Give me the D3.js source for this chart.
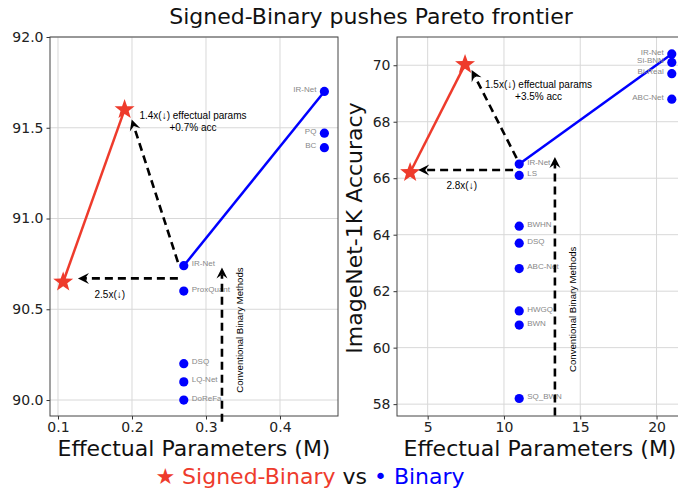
<!DOCTYPE html>
<html><head><meta charset="utf-8">
<script src="https://cdn.jsdelivr.net/npm/d3@7/dist/d3.min.js"></script>
<style>
body{margin:0;background:#fff;}
svg{display:block;}
</style></head>
<body><svg id="c" width="678" height="488"></svg>
<script>
// ---- data ----
const leftSBx = [0.107, 0.19];
const leftSBy = [90.65, 91.6];
const leftBinNames = ["IR-Net","PQ","BC","IR-Net","ProxQuant","DSQ","LQ-Net","DoReFa"];
const leftBinX = [0.46,0.46,0.46,0.27,0.27,0.27,0.27,0.27];
const leftBinY = [91.7,91.47,91.39,90.74,90.6,90.2,90.1,90.0];
const leftBinFront = [3,0];
const leftXTicks = [0.1,0.2,0.3,0.4];
const leftYTicks = [90.0,90.5,91.0,91.5,92.0];

const rightSBx = [3.85, 7.45];
const rightSBy = [66.2, 70.03];
const rightBinNames = ["IR-Net","Si-BNN","Bi-Real","ABC-Net","IR-Net","LS","BWHN","DSQ","ABC-Net","HWGQ","BWN","SQ_BWN"];
const rightBinX = [21,21,21,21,11,11,11,11,11,11,11,11];
const rightBinY = [70.4,70.1,69.7,68.8,66.5,66.1,64.3,63.7,62.8,61.3,60.8,58.2];
const rightBinFront = [4,0];
const rightXTicks = [5,10,15,20];
const rightYTicks = [58,60,62,64,66,68,70];

const leftArrows = [
  {x1:0.262,y1:90.76,x2:0.1996,y2:91.546},
  {x1:0.262,y1:90.67,x2:0.127,y2:90.67},
  {x1:0.3216,y1:89.88,x2:0.3216,y2:90.73}
];
const rightArrows = [
  {x1:10.83,y1:66.71,x2:7.88,y2:69.83},
  {x1:10.6,y1:66.29,x2:4.38,y2:66.29},
  {x1:13.34,y1:57.6,x2:13.34,y2:66.75}
];
const leftNotes = [
  {t:"1.4x(\u2193) effectual params",x:0.2824,y:91.565,rot:false},
  {t:"+0.7% acc",x:0.2824,y:91.498,rot:false},
  {t:"2.5x(\u2193)",x:0.170,y:90.578,rot:false},
  {t:"Conventional Binary Methods",x:0.347,y:90.385,rot:true}
];
const rightNotes = [
  {t:"1.5x(\u2193) effectual params",x:12.27,y:69.29,rot:false},
  {t:"+3.5% acc",x:12.27,y:68.88,rot:false},
  {t:"2.8x(\u2193)",x:7.23,y:65.70,rot:false},
  {t:"Conventional Binary Methods",x:14.58,y:61.36,rot:true}
];

const RED = "#ee3b2c", BLUE = "#0000ff";
const svg = d3.select("#c");
const FONT = "'DejaVu Sans', sans-serif";
const AFONT = "'Liberation Sans', Arial, sans-serif";

function starPath(R, r){
  const pts=[];
  for(let i=0;i<10;i++){
    const a = -Math.PI/2 + i*Math.PI/5;
    const rr = i%2===0?R:r;
    pts.push([rr*Math.cos(a), rr*Math.sin(a)]);
  }
  return "M"+pts.map(p=>p.join(",")).join("L")+"Z";
}

function panel(cfg){
  const x = d3.scaleLinear().domain(cfg.xd).range([cfg.x0,cfg.x1]);
  const y = d3.scaleLinear().domain(cfg.yd).range([cfg.y1,cfg.y0]);
  const g = svg.append("g");
  const clipId = "clip"+cfg.id;
  svg.append("clipPath").attr("id",clipId).append("rect")
    .attr("x",cfg.x0).attr("y",cfg.y0).attr("width",cfg.x1-cfg.x0).attr("height",cfg.y1-cfg.y0);
  // grid
  g.append("g").selectAll("line").data(cfg.xt).join("line")
    .attr("x1",d=>x(d)).attr("x2",d=>x(d)).attr("y1",cfg.y0).attr("y2",cfg.y1)
    .attr("stroke","#d8d8d8").attr("stroke-width",1);
  g.append("g").selectAll("line").data(cfg.yt).join("line")
    .attr("y1",d=>y(d)).attr("y2",d=>y(d)).attr("x1",cfg.x0).attr("x2",cfg.x1)
    .attr("stroke","#d8d8d8").attr("stroke-width",1);
  // axes
  const xa = d3.axisBottom(x).tickValues(cfg.xt).tickFormat(cfg.xf).tickSize(3.5).tickPadding(3);
  const ya = d3.axisLeft(y).tickValues(cfg.yt).tickFormat(cfg.yf).tickSize(3.5).tickPadding(3);
  const gx = g.append("g").attr("transform",`translate(0,${cfg.y1})`).call(xa);
  const gy = g.append("g").attr("transform",`translate(${cfg.x0},0)`).call(ya);
  [gx,gy].forEach(a=>{
    a.select(".domain").remove();
    a.selectAll("line").attr("stroke","#333");
    a.selectAll("text").attr("font-family",FONT).attr("font-size",14).attr("fill","#222");
  });
  // frame
  g.append("rect").attr("x",cfg.x0).attr("y",cfg.y0).attr("width",cfg.x1-cfg.x0).attr("height",cfg.y1-cfg.y0)
    .attr("fill","none").attr("stroke","#444").attr("stroke-width",1);
  const p = g.append("g").attr("clip-path",`url(#${clipId})`);
  // lines
  const line = d3.line().x(d=>x(d[0])).y(d=>y(d[1]));
  p.append("path").attr("d",line(cfg.sbx.map((v,i)=>[v,cfg.sby[i]])))
    .attr("fill","none").attr("stroke",RED).attr("stroke-width",2.5);
  p.append("path").attr("d",line(cfg.front.map(i=>[cfg.bx[i],cfg.by[i]])))
    .attr("fill","none").attr("stroke",BLUE).attr("stroke-width",2.5);
  // blue dots
  p.append("g").selectAll("circle").data(cfg.bx).join("circle")
    .attr("cx",d=>x(d)).attr("cy",(d,i)=>y(cfg.by[i])).attr("r",4.6).attr("fill",BLUE);
  // labels
  p.append("g").selectAll("text").data(cfg.names).join("text")
    .attr("x",(d,i)=> cfg.bx[i] > cfg.labelSplit ? x(cfg.bx[i])-8 : x(cfg.bx[i])+8)
    .attr("y",(d,i)=>y(cfg.by[i])-1.5)
    .attr("text-anchor",(d,i)=> cfg.bx[i] > cfg.labelSplit ? "end":"start")
    .attr("dominant-baseline","middle")
    .attr("font-family",AFONT).attr("font-size",8).attr("fill","#888").text(d=>d);
  // stars
  p.append("g").selectAll("path").data(cfg.sbx).join("path")
    .attr("d",starPath(10.5,4.3))
    .attr("transform",(d,i)=>`translate(${x(d)},${y(cfg.sby[i])})`).attr("fill",RED);
  // arrows
  cfg.arrows.forEach(a=>{
    const X1=x(a.x1),Y1=y(a.y1),X2=x(a.x2),Y2=y(a.y2);
    const ang = Math.atan2(Y2-Y1,X2-X1);
    const L=10;
    const bx = X2 - Math.cos(ang)*(L-3), by = Y2 - Math.sin(ang)*(L-3);
    g.append("line").attr("x1",X1).attr("y1",Y1).attr("x2",bx).attr("y2",by)
      .attr("stroke","#000").attr("stroke-width",2.6).attr("stroke-dasharray","8,5");
    g.append("path").attr("d","M0,0L-11,-5.5L-7,0L-11,5.5Z").attr("fill","#000")
      .attr("transform",`translate(${X2},${Y2}) rotate(${ang*180/Math.PI})`);
  });
  // notes
  cfg.notes.forEach(n=>{
    const t = g.append("text").attr("font-family",AFONT).attr("font-size",n.rot?9.6:10)
      .attr("fill","#000").attr("text-anchor","middle").attr("dominant-baseline","middle").text(n.t);
    if(n.rot) t.attr("transform",`translate(${x(n.x)},${y(n.y)}) rotate(-90)`);
    else t.attr("x",x(n.x)).attr("y",y(n.y));
  });
  // x label
  g.append("text").attr("x",(cfg.xlx)).attr("y",456).attr("text-anchor","middle")
    .attr("font-family",FONT).attr("font-size",22).attr("fill","#111").text("Effectual Parameters (M)");
  return {x,y};
}

panel({id:"L",x0:50,x1:338,y0:37,y1:416,xd:[0.0892,0.4784],yd:[89.912,92.0],
  xt:leftXTicks,yt:leftYTicks,xf:d3.format(".1f"),yf:d3.format(".1f"),
  sbx:leftSBx,sby:leftSBy,bx:leftBinX,by:leftBinY,names:leftBinNames,front:leftBinFront,
  labelSplit:0.4,arrows:leftArrows,notes:leftNotes,xlx:194});
panel({id:"R",x0:397,x1:684,y0:37,y1:416,xd:[2.99,21.8],yd:[57.58,71.0],
  xt:rightXTicks,yt:rightYTicks,xf:d3.format("d"),yf:d3.format("d"),
  sbx:rightSBx,sby:rightSBy,bx:rightBinX,by:rightBinY,names:rightBinNames,front:rightBinFront,
  labelSplit:15,arrows:rightArrows,notes:rightNotes,xlx:540});

// y label (right)
svg.append("text").attr("transform","translate(362,228) rotate(-90)").attr("text-anchor","middle")
  .attr("font-family",FONT).attr("font-size",22).attr("fill","#111").text("ImageNet-1K Accuracy");
// title
svg.append("text").attr("x",371).attr("y",24).attr("text-anchor","middle")
  .attr("font-family",FONT).attr("font-size",22).attr("fill","#111").text("Signed-Binary pushes Pareto frontier");
// legend
const leg = svg.append("text").attr("x",310).attr("y",484).attr("text-anchor","middle")
  .attr("font-family",FONT).attr("font-size",22);
leg.append("tspan").attr("fill",RED).text("\u2605 Signed-Binary");
leg.append("tspan").attr("fill","#111").text(" vs ");
leg.append("tspan").attr("fill",BLUE).text("\u2022 Binary");
</script></body></html>
